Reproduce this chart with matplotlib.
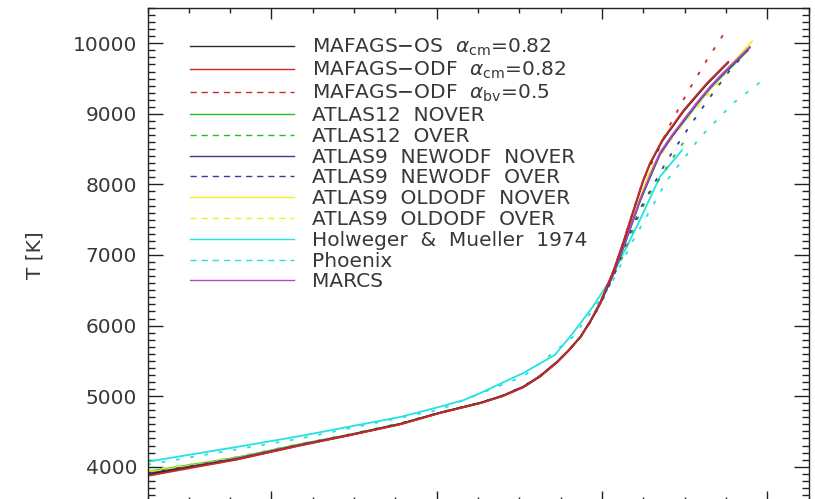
import matplotlib
matplotlib.use("Agg")
import matplotlib.pyplot as plt
from matplotlib.lines import Line2D
from matplotlib.ticker import MultipleLocator

# ---------------- data (x: optical depth axis, T in K) ----------------
x_low = [-5.5, -4.42, -3.65, -3.05, -2.44, -1.96, -1.47, -1.2, -0.95, -0.75, -0.54, -0.40, -0.26, -0.14, -0.02]

# MARCS (magenta)
x_marcs = x_low + [0.14, 0.26, 0.36, 0.46, 0.58, 0.70, 0.85, 0.99, 1.15, 1.31, 1.45, 1.59, 1.79]
t_marcs = [3885, 4110, 4310, 4450, 4605, 4765, 4905, 5005, 5135, 5285, 5490, 5655, 5840, 6060, 6320,
           6745, 7120, 7450, 7780, 8120, 8445, 8700, 8915, 9160, 9385, 9560, 9720, 9950]

# MAFAGS-ODF alpha_cm = 0.82 (red)
x_mafags_odf = x_low + [0.14, 0.26, 0.36, 0.50, 0.58, 0.73, 0.99, 1.27, 1.53]
t_mafags_odf = [3870, 4100, 4300, 4445, 4600, 4760, 4900, 5000, 5125, 5275, 5480, 5650, 5840, 6065, 6330,
                6780, 7190, 7560, 8065, 8300, 8630, 9055, 9435, 9740]

# MAFAGS-OS alpha_cm = 0.82 (black)
x_mafags_os = x_low + [0.14, 0.26, 0.36, 0.50, 0.58, 0.73, 0.99, 1.27, 1.53]
t_mafags_os = [3890, 4105, 4305, 4450, 4605, 4765, 4905, 5005, 5130, 5280, 5485, 5650, 5840, 6062, 6325,
               6770, 7175, 7545, 8050, 8285, 8615, 9040, 9420, 9730]

# MAFAGS-ODF alpha_bv = 0.5 (red dashed)
x_mafags_bv = x_low + [0.14, 0.26, 0.36, 0.50, 0.70, 0.79, 1.03, 1.27, 1.49]
t_mafags_bv = [3880, 4105, 4305, 4450, 4605, 4765, 4905, 5003, 5130, 5280, 5485, 5652, 5840, 6065, 6330,
               6780, 7190, 7560, 8065, 8530, 8770, 9295, 9763, 10160]

# ATLAS12 NOVER (green)
x_atlas12_nover = x_low + [0.14, 0.26, 0.36, 0.46, 0.58, 0.70, 0.85, 0.99, 1.15, 1.31, 1.45, 1.59, 1.75]
t_atlas12_nover = [3930, 4130, 4320, 4455, 4610, 4765, 4905, 5005, 5130, 5280, 5485, 5650, 5835, 6055, 6310,
                   6730, 7100, 7430, 7760, 8100, 8420, 8680, 8890, 9130, 9355, 9530, 9690, 9880]

# ATLAS12 OVER (green dashed)
x_atlas12_over = x_low + [0.14, 0.26, 0.36, 0.46, 0.58, 0.70, 0.83, 0.99]
t_atlas12_over = [3940, 4135, 4325, 4460, 4615, 4770, 4910, 5012, 5140, 5290, 5490, 5655, 5835, 6050, 6300,
                  6700, 7000, 7300, 7600, 7880, 8080, 8330, 8600]

# ATLAS9 NEWODF NOVER (navy)
x_atlas9_new_nover = x_low + [0.14, 0.26, 0.36, 0.46, 0.58, 0.70, 0.85, 0.99, 1.15, 1.31, 1.45, 1.59, 1.79]
t_atlas9_new_nover = [3900, 4115, 4310, 4450, 4605, 4765, 4905, 5005, 5135, 5285, 5490, 5655, 5840, 6058, 6315,
                      6735, 7110, 7440, 7765, 8100, 8425, 8685, 8900, 9145, 9370, 9545, 9705, 9940]

# ATLAS9 NEWODF OVER (navy dashed)
x_atlas9_new_over = x_low + [0.14, 0.26, 0.46, 0.79, 1.07, 1.31, 1.55, 1.77]
t_atlas9_new_over = [3910, 4120, 4315, 4455, 4610, 4765, 4905, 5005, 5135, 5285, 5490, 5652, 5835, 6050, 6300,
                     6700, 7080, 7650, 8345, 8840, 9240, 9620, 9905]

# ATLAS9 OLDODF NOVER (yellow)
x_atlas9_old_nover = x_low + [0.14, 0.26, 0.36, 0.46, 0.58, 0.79, 1.00, 1.19, 1.38, 1.55, 1.82]
t_atlas9_old_nover = [3920, 4120, 4310, 4450, 4600, 4760, 4900, 5000, 5130, 5280, 5485, 5652, 5840, 6062, 6325,
                      6760, 7150, 7480, 7810, 8180, 8600, 8930, 9195, 9450, 9680, 10030]

# ATLAS9 OLDODF OVER (yellow dashed)
x_atlas9_old_over = x_low + [0.14, 0.26, 0.36, 0.46, 0.58, 0.79, 1.00, 1.19, 1.38, 1.55, 1.82]
t_atlas9_old_over = [3945, 4130, 4320, 4455, 4605, 4762, 4902, 5003, 5132, 5282, 5485, 5650, 5835, 6055, 6315,
                     6740, 7120, 7450, 7770, 8130, 8560, 8880, 9150, 9400, 9640, 9990]

# Holweger & Mueller 1974 (cyan)
x_hm = [-5.5, -4.42, -3.65, -2.44, -1.96, -1.67, -1.47, -0.95, -0.57, -0.35, -0.11,
        0.10, 0.28, 0.46, 0.70, 0.97]
t_hm = [4071, 4280, 4435, 4705, 4850, 4945, 5045, 5328, 5583, 5895, 6268,
        6646, 7071, 7496, 8105, 8488]

# Phoenix (cyan dashed)
x_phoenix = [-5.5, -3.65, -1.96, -0.95, -0.35, 0.10, 0.38, 0.79, 1.19, 1.59, 1.98]
t_phoenix = [4030, 4400, 4810, 5280, 5840, 6560, 7213, 8063, 8670, 9153, 9508]

labels = [
    "MAFAGS\u2212OS  $\\alpha_{\\mathrm{cm}}$=0.82",
    "MAFAGS\u2212ODF  $\\alpha_{\\mathrm{cm}}$=0.82",
    "MAFAGS\u2212ODF  $\\alpha_{\\mathrm{bv}}$=0.5",
    "ATLAS12  NOVER",
    "ATLAS12  OVER",
    "ATLAS9  NEWODF  NOVER",
    "ATLAS9  NEWODF  OVER",
    "ATLAS9  OLDODF  NOVER",
    "ATLAS9  OLDODF  OVER",
    "Holweger  &  Mueller  1974",
    "Phoenix",
    "MARCS",
]

# ---------------- styling ----------------
c_black = "#2a2a2a"
c_red = "#cc2a2a"
c_green = "#22c022"
c_navy = "#3b3b9a"
c_yellow = "#f2f020"
c_cyan = "#22e2e2"
c_mag = "#b845c8"

series = [
    (x_mafags_os, t_mafags_os, c_black, "-"),
    (x_mafags_odf, t_mafags_odf, c_red, "-"),
    (x_mafags_bv, t_mafags_bv, c_red, "--"),
    (x_atlas12_nover, t_atlas12_nover, c_green, "-"),
    (x_atlas12_over, t_atlas12_over, c_green, "--"),
    (x_atlas9_new_nover, t_atlas9_new_nover, c_navy, "-"),
    (x_atlas9_new_over, t_atlas9_new_over, c_navy, "--"),
    (x_atlas9_old_nover, t_atlas9_old_nover, c_yellow, "-"),
    (x_atlas9_old_over, t_atlas9_old_over, c_yellow, "--"),
    (x_hm, t_hm, c_cyan, "-"),
    (x_phoenix, t_phoenix, c_cyan, "--"),
    (x_marcs, t_marcs, c_mag, "-"),
]

plt.rcParams['font.family'] = ['DejaVu Sans']
plt.rcParams['mathtext.fontset'] = 'dejavusans'
txt = "#383838"

fig = plt.figure(figsize=(8.15, 4.99), dpi=100)
ax = fig.add_axes([147.5 / 815, -3.0 / 499, 661 / 815, 494 / 499])

order = [9, 10, 3, 4, 8, 7, 6, 5, 11, 2, 0, 1]
for i in order:
    xs, ts, col, ls = series[i]
    dash = (0, (2, 6)) if ls == "--" else "-"
    ax.plot(xs, ts, color=col, lw=1.3, linestyle=dash, solid_capstyle="round")

fs = 14.5
handles = [Line2D([], [], color=c, lw=1.0, linestyle=((0, (4.5, 3.5)) if ls == "--" else "-"))
           for (_, _, c, ls) in series]
leg = ax.legend(handles, labels, loc="upper left", bbox_to_anchor=(0.064, 0.942),
                frameon=False, fontsize=fs, handlelength=5.16, handletextpad=0.9,
                labelspacing=0.09, borderaxespad=0, borderpad=0)
for t in leg.get_texts():
    t.set_color(txt)

ax.set_xlim(-5.5, 2.5)
ax.set_ylim(3500, 10500)
ax.xaxis.set_major_locator(MultipleLocator(2))
ax.xaxis.set_minor_locator(MultipleLocator(0.5))
ax.yaxis.set_major_locator(MultipleLocator(1000))
ax.yaxis.set_minor_locator(MultipleLocator(100))
ax.tick_params(axis="both", which="both", direction="in", top=True, right=True,
               color="#222222", width=1.0)
ax.tick_params(axis="x", which="major", length=8)
ax.tick_params(axis="x", which="minor", length=3.8)
ax.tick_params(axis="y", which="major", length=10.5)
ax.tick_params(axis="y", which="minor", length=5)
ax.tick_params(axis="y", which="major", labelsize=fs, labelcolor=txt, pad=7.5)
ax.tick_params(axis="x", labelbottom=False)
ax.set_ylabel("T [K]", fontsize=fs, color=txt, labelpad=20)
for s in ax.spines.values():
    s.set_color("#222222")
    s.set_linewidth(1.0)

fig.savefig("out.png", dpi=100)
